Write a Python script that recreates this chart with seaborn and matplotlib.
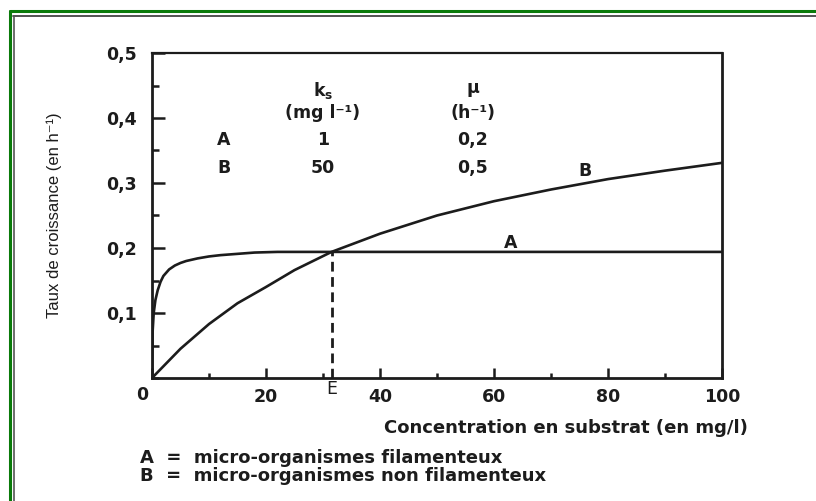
import matplotlib
matplotlib.use("Agg")
import matplotlib.pyplot as plt
from matplotlib.lines import Line2D
from matplotlib.ticker import MultipleLocator, FixedLocator
from matplotlib.font_manager import FontProperties
import pandas as pd
import seaborn as sns

# Growth-rate curves (Monod type) read as points
subst_a = [0, 0.1, 0.3, 0.6, 1, 1.5, 2, 3, 4, 5, 6, 8, 10, 12, 15, 18, 22, 31.5, 50, 100]
rate_a = [0, 0.07, 0.10, 0.12, 0.135, 0.148, 0.157, 0.167, 0.173, 0.177, 0.180,
          0.184, 0.187, 0.189, 0.191, 0.193, 0.194, 0.194, 0.194, 0.194]
subst_b = [0, 5, 10, 15, 20, 25, 31.5, 40, 50, 60, 70, 80, 90, 100]
rate_b = [0, 0.045, 0.083, 0.115, 0.140, 0.166, 0.194, 0.222, 0.250, 0.272,
          0.290, 0.306, 0.319, 0.331]

# Intersection point E
e_subst = 31.5
e_rate = 0.194

x_ticks = [0, 20, 40, 60, 80, 100]
x_ticklabels = ["", "20", "40", "60", "80", "100"]
y_ticks = [0.1, 0.2, 0.3, 0.4, 0.5]
y_ticklabels = ["0,1", "0,2", "0,3", "0,4", "0,5"]

table_rows = ["A", "B"]
table_ks = ["1", "50"]
table_mu = ["0,2", "0,5"]

ink = "#1c1c1c"

sns.set_theme(style="white")
plt.rcParams["font.family"] = ["DejaVu Sans"]
plt.rcParams["axes.edgecolor"] = ink
plt.rcParams["text.color"] = ink
plt.rcParams["mathtext.fontset"] = "dejavusans"

fig = plt.figure(figsize=(8.16, 5.01), dpi=100)
fig.patch.set_facecolor("white")
ax = fig.add_axes([152 / 816, 1 - 378 / 501, 570 / 816, 325 / 501])

df = pd.concat([
    pd.DataFrame({"S": subst_a, "mu": rate_a, "souche": "A"}),
    pd.DataFrame({"S": subst_b, "mu": rate_b, "souche": "B"}),
])
sns.lineplot(data=df, x="S", y="mu", units="souche", estimator=None,
             color=ink, lw=1.9, sort=False, legend=False, ax=ax)

# dashed drop line from E to the abscissa
ax.plot([e_subst, e_subst], [0, e_rate], color=ink, lw=2.0,
        linestyle=(0, (3.5, 2)))

ax.set_xlim(0, 100)
ax.set_ylim(0, 0.5)

ax.xaxis.set_major_locator(FixedLocator(x_ticks))
ax.set_xticklabels(x_ticklabels)
ax.xaxis.set_minor_locator(MultipleLocator(10))
ax.yaxis.set_major_locator(FixedLocator(y_ticks))
ax.set_yticklabels(y_ticklabels)
ax.yaxis.set_minor_locator(MultipleLocator(0.05))

tick_font = dict(family="DejaVu Sans", weight="bold", size=12.5)
text_font = dict(family="DejaVu Sans", weight="bold", size=13)
for lab in ax.get_xticklabels() + ax.get_yticklabels():
    lab.set_fontproperties(FontProperties(**tick_font))
    lab.set_color(ink)

ax.tick_params(axis="x", which="major", direction="in", length=7, width=1.8,
               pad=7, color=ink, bottom=True, top=False)
ax.tick_params(axis="x", which="minor", direction="in", length=3.5, width=1.8,
               color=ink, bottom=True, top=False)
ax.tick_params(axis="y", which="major", direction="in", length=9, width=1.8,
               pad=11, color=ink, left=True, right=False)
ax.tick_params(axis="y", which="minor", direction="in", length=5, width=1.8,
               color=ink, left=True, right=False)

for side in ["left", "bottom", "right"]:
    ax.spines[side].set_linewidth(2.0)
ax.spines["top"].set_linewidth(1.6)
for sp in ax.spines.values():
    sp.set_visible(True)
    sp.set_color(ink)

ax.set_xlabel("")
ax.set_ylabel("Taux de croissance (en h⁻¹)", family=["Liberation Sans", "DejaVu Sans"],
              fontsize=12, color=ink)
ax.yaxis.set_label_coords(-0.158, 0.5)

# origin label and intersection mark
ax.text(-1.8, -0.026, "0", ha="center", va="center", clip_on=False, **tick_font)
ax.text(e_subst, -0.017, "E", ha="center", va="center", clip_on=False,
        family="DejaVu Sans", size=12.5)

# curve names
ax.text(76, 0.318, "B", ha="center", va="center", **tick_font)
ax.text(63, 0.208, "A", ha="center", va="center", **tick_font)

# parameter table
col_name, col_ks, col_mu = 12.6, 30, 56.3
ax.text(col_ks, 0.443, r"k$_\mathbf{s}$", ha="center", va="center", **tick_font)
ax.text(col_ks, 0.408, "(mg l⁻¹)", ha="center", va="center", **tick_font)
ax.text(col_mu, 0.446, "µ", ha="center", va="center", **tick_font)
ax.text(col_mu, 0.408, "(h⁻¹)", ha="center", va="center", **tick_font)
for i, (r, k, m) in enumerate(zip(table_rows, table_ks, table_mu)):
    yy = 0.366 - i * 0.043
    ax.text(col_name, yy, r, ha="center", va="center", **tick_font)
    ax.text(col_ks, yy, k, ha="center", va="center", **tick_font)
    ax.text(col_mu, yy, m, ha="center", va="center", **tick_font)

# axis title and key below the plot
fig.text(566 / 816, 1 - 428 / 501, "Concentration en substrat (en mg/l)",
         ha="center", va="center", **text_font)
fig.text(140 / 816, 1 - 458 / 501, "A  =  micro-organismes filamenteux",
         ha="left", va="center", **text_font)
fig.text(140 / 816, 1 - 476 / 501, "B  =  micro-organismes non filamenteux",
         ha="left", va="center", **text_font)

# page frame
fig.add_artist(Line2D([10 / 816, 1], [1 - 11 / 501] * 2, transform=fig.transFigure,
                      color="#0a7a0a", lw=2.2))
fig.add_artist(Line2D([10 / 816] * 2, [0, 1 - 11 / 501], transform=fig.transFigure,
                      color="#0a7a0a", lw=2.2))
fig.add_artist(Line2D([13 / 816, 1], [1 - 16 / 501] * 2, transform=fig.transFigure,
                      color="#444444", lw=1.3))
fig.add_artist(Line2D([13.5 / 816] * 2, [0, 1 - 16 / 501], transform=fig.transFigure,
                      color="#555555", lw=1.2))

fig.savefig("out.png", dpi=100, facecolor="white")
